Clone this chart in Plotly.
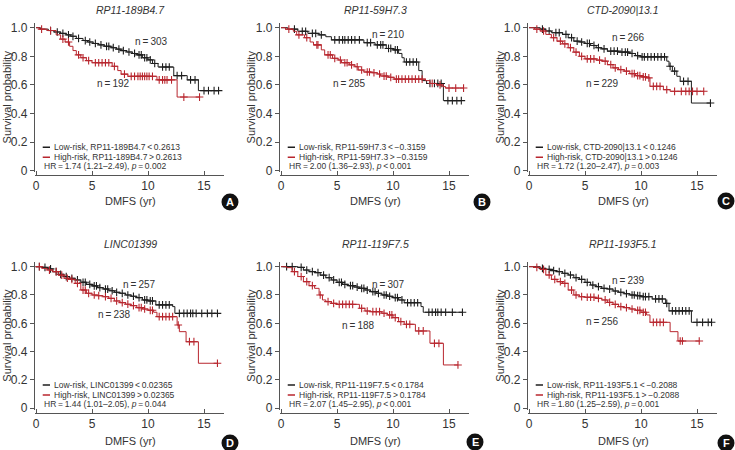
import numpy as np
import plotly.graph_objects as go

W, H = 735, 450

# ---------------- data ----------------
titles = ["RP11-189B4.7", "RP11-59H7.3", "CTD-2090|13.1", "LINC01399", "RP11-119F7.5", "RP11-193F5.1"]
letters = ["A", "B", "C", "D", "E", "F"]
low_labels = ["Low-risk, RP11-189B4.7\u2009<\u20090.2613", "Low-risk, RP11-59H7.3\u2009<\u2009\u22120.3159",
              "Low-risk, CTD-2090|13.1\u2009<\u20090.1246", "Low-risk, LINC01399\u2009<\u20090.02365",
              "Low-risk, RP11-119F7.5\u2009<\u20090.1784", "Low-risk, RP11-193F5.1\u2009<\u2009\u22120.2088"]
high_labels = ["High-risk, RP11-189B4.7\u2009>\u20090.2613", "High-risk, RP11-59H7.3\u2009>\u2009\u22120.3159",
               "High-risk, CTD-2090|13.1\u2009>\u20090.1246", "High-risk, LINC01399\u2009>\u20090.02365",
               "High-risk, RP11-119F7.5\u2009>\u20090.1784", "High-risk, RP11-193F5.1\u2009>\u2009\u22120.2088"]
hr_values = ["1.74 (1.21\u20132.49)", "2.00 (1.36\u20132.93)", "1.72 (1.20\u20132.47)",
             "1.44 (1.01\u20132.05)", "2.07 (1.45\u20132.95)", "1.80 (1.25\u20132.59)"]
p_values = ["\u2009=\u20090.002", "\u2009<\u20090.001", "\u2009=\u20090.003",
            "\u2009=\u20090.044", "\u2009<\u20090.001", "\u2009=\u20090.001"]
n_low = [303, 210, 266, 257, 307, 239]
n_high = [192, 285, 229, 238, 188, 256]
x_ticks = [0, 5, 10, 15]
y_ticks = [0, 0.2, 0.4, 0.6, 0.8, 1.0]
y_ticktext = ["0", "0.2", "0.4", "0.6", "0.8", "1.0"]

# Panel A
A_low_t = [0, 0.4, 1.1, 1.6, 2.2, 2.7, 3.1, 3.6, 4.2, 4.6, 5.1, 5.6, 6.1, 6.7, 7.2, 7.6, 8.1, 8.6, 9.0, 9.5, 10.0, 10.4, 10.9, 12.3, 13.5, 14.5]
A_low_s = [1.0, 0.99, 0.98, 0.97, 0.96, 0.95, 0.94, 0.925, 0.91, 0.90, 0.89, 0.88, 0.87, 0.86, 0.85, 0.84, 0.83, 0.82, 0.81, 0.79, 0.775, 0.75, 0.725, 0.665, 0.635, 0.56]
A_low_c = [1.3, 1.9, 2.4, 2.9, 3.3, 3.8, 4.4, 4.8, 5.3, 5.8, 6.3, 6.5, 6.9, 7.4, 7.8, 8.3, 8.8, 9.2, 9.4, 9.7, 9.9, 10.2, 10.6, 11.3, 11.6, 11.9, 12.6, 13.0, 13.8, 14.2, 15.0, 15.4, 15.9, 16.3]
A_high_t = [0, 0.3, 1.0, 1.8, 2.2, 2.6, 3.0, 3.3, 3.6, 4.0, 4.5, 5.0, 6.8, 7.3, 7.6, 8.2, 10.8, 12.6]
A_high_s = [1.0, 0.99, 0.98, 0.95, 0.92, 0.90, 0.87, 0.84, 0.81, 0.79, 0.77, 0.755, 0.73, 0.70, 0.675, 0.66, 0.635, 0.515]
A_high_c = [0.5, 1.3, 2.4, 2.9, 3.8, 4.2, 4.7, 5.3, 5.6, 5.9, 6.2, 6.5, 7.0, 7.9, 8.5, 8.8, 9.1, 9.3, 9.5, 9.7, 9.9, 10.1, 10.4, 11.0, 11.3, 11.5, 11.7, 12.1, 13.2, 14.6]

# Panel B
B_low_t = [0, 0.6, 1.5, 2.4, 3.4, 4.0, 4.5, 7.4, 8.4, 9.4, 10.0, 10.5, 10.8, 11.0, 12.3, 12.6, 13.0, 14.5]
B_low_s = [1.0, 0.99, 0.975, 0.96, 0.95, 0.937, 0.915, 0.895, 0.88, 0.855, 0.845, 0.82, 0.79, 0.76, 0.70, 0.63, 0.61, 0.49]
B_low_c = [1.2, 1.9, 2.2, 2.8, 3.1, 3.6, 4.8, 5.2, 5.5, 5.7, 6.0, 6.3, 6.6, 7.0, 7.7, 8.0, 8.6, 8.9, 9.1, 9.6, 9.8, 10.2, 10.4, 11.2, 11.5, 11.8, 12.1, 13.3, 13.7, 14.0, 14.3, 14.9, 15.3, 15.7, 16.1]
B_high_t = [0, 0.4, 1.1, 1.4, 2.1, 2.6, 2.9, 3.6, 3.9, 4.6, 5.1, 5.4, 6.1, 6.6, 6.9, 7.4, 8.1, 8.6, 8.9, 9.6, 10.1, 12.9, 13.3, 13.9, 14.4, 14.7]
B_high_s = [1.0, 0.99, 0.975, 0.95, 0.93, 0.90, 0.88, 0.845, 0.81, 0.786, 0.774, 0.755, 0.74, 0.727, 0.704, 0.69, 0.685, 0.676, 0.662, 0.653, 0.64, 0.63, 0.61, 0.60, 0.588, 0.578]
B_high_c = [0.7, 1.6, 2.3, 3.2, 3.3, 4.2, 4.4, 4.8, 5.3, 5.7, 5.9, 6.3, 6.8, 7.2, 7.7, 7.9, 8.3, 8.8, 9.2, 9.4, 9.8, 10.3, 10.5, 10.8, 11.1, 11.4, 11.7, 12.0, 12.3, 12.6, 13.5, 14.2, 15.0, 15.6, 16.3]

# Panel C
C_low_t = [0, 1.0, 1.5, 2.0, 3.0, 3.5, 4.0, 4.5, 5.0, 5.5, 6.0, 6.5, 7.0, 8.0, 9.0, 9.5, 10.0, 12.3, 12.5, 12.8, 13.2, 13.5, 14.5]
C_low_s = [1.0, 0.99, 0.977, 0.965, 0.953, 0.93, 0.906, 0.90, 0.89, 0.876, 0.86, 0.852, 0.836, 0.829, 0.82, 0.805, 0.796, 0.766, 0.73, 0.696, 0.66, 0.625, 0.473]
C_low_c = [1.2, 1.8, 2.4, 2.7, 3.3, 3.8, 4.3, 4.7, 5.2, 5.4, 5.8, 6.2, 6.7, 7.3, 7.6, 7.9, 8.3, 8.6, 8.8, 9.2, 9.7, 10.1, 10.3, 10.6, 10.9, 11.2, 11.5, 11.8, 12.1, 12.6, 13.0, 13.8, 14.2, 16.2]
C_high_t = [0, 0.5, 1.0, 1.5, 2.0, 2.5, 3.0, 3.5, 4.0, 4.5, 5.0, 6.0, 6.5, 7.0, 7.5, 8.0, 8.5, 9.0, 9.5, 10.0, 10.5, 10.8, 12.0, 12.6]
C_high_s = [1.0, 0.99, 0.977, 0.953, 0.93, 0.906, 0.887, 0.86, 0.829, 0.80, 0.782, 0.773, 0.766, 0.742, 0.719, 0.707, 0.696, 0.679, 0.665, 0.656, 0.649, 0.59, 0.567, 0.555]
C_high_c = [0.7, 1.3, 2.2, 2.8, 3.2, 3.7, 4.2, 4.7, 5.2, 5.5, 5.8, 6.3, 6.8, 7.3, 7.7, 8.2, 8.7, 9.2, 9.4, 9.7, 9.9, 10.2, 10.4, 10.7, 11.1, 11.4, 11.7, 12.3, 13.0, 13.6, 14.0, 14.3, 14.6, 15.0, 15.6]

# Panel D
D_low_t = [0, 0.5, 1.0, 1.5, 2.0, 2.5, 3.0, 3.5, 4.0, 4.5, 5.0, 5.5, 6.0, 6.5, 7.0, 7.5, 8.0, 8.5, 9.0, 9.5, 10.0, 10.7, 12.2, 12.4]
D_low_s = [1.0, 0.995, 0.984, 0.965, 0.946, 0.93, 0.918, 0.906, 0.89, 0.875, 0.864, 0.852, 0.842, 0.83, 0.819, 0.812, 0.80, 0.791, 0.781, 0.765, 0.758, 0.73, 0.718, 0.67]
D_low_c = [0.3, 0.8, 1.3, 1.8, 2.2, 2.7, 3.2, 3.7, 4.2, 4.4, 4.8, 5.2, 5.4, 5.7, 6.2, 6.4, 6.8, 7.2, 7.7, 8.2, 8.7, 9.2, 9.7, 9.9, 10.2, 10.4, 11.0, 11.3, 11.6, 11.9, 12.8, 13.2, 13.5, 13.8, 14.0, 14.3, 14.8, 15.3, 15.7, 16.2]
D_high_t = [0, 0.5, 1.0, 1.5, 2.0, 2.5, 3.0, 3.5, 4.0, 4.5, 5.0, 5.5, 6.0, 6.5, 7.0, 7.5, 8.0, 8.5, 9.0, 9.5, 10.0, 10.5, 10.8, 12.6, 12.8, 13.4, 14.5]
D_high_s = [1.0, 0.988, 0.976, 0.965, 0.94, 0.918, 0.91, 0.882, 0.835, 0.812, 0.80, 0.795, 0.788, 0.776, 0.758, 0.746, 0.735, 0.725, 0.711, 0.701, 0.692, 0.678, 0.647, 0.588, 0.541, 0.47, 0.318]
D_high_c = [0.3, 1.2, 1.8, 2.3, 2.8, 3.2, 3.7, 4.2, 4.4, 4.7, 5.2, 5.6, 6.2, 6.7, 7.2, 7.7, 8.2, 8.7, 9.2, 9.4, 9.7, 10.2, 10.4, 11.0, 11.3, 11.6, 11.9, 12.2, 12.7, 13.7, 14.1, 16.2]

# Panel E
E_low_t = [0, 1.5, 2.0, 2.5, 3.0, 3.5, 4.0, 4.5, 5.0, 5.5, 6.0, 6.5, 7.0, 7.5, 8.0, 8.5, 9.0, 9.5, 10.0, 10.5, 11.0, 12.5, 12.7]
E_low_s = [1.0, 0.995, 0.976, 0.965, 0.958, 0.94, 0.922, 0.906, 0.889, 0.875, 0.866, 0.856, 0.847, 0.835, 0.824, 0.812, 0.80, 0.791, 0.781, 0.765, 0.745, 0.718, 0.678]
E_low_c = [0.5, 1.0, 1.8, 2.3, 2.8, 3.3, 3.8, 4.3, 4.7, 5.2, 5.4, 5.7, 6.2, 6.4, 6.8, 7.2, 7.4, 7.7, 8.2, 8.4, 8.7, 9.2, 9.4, 9.7, 10.2, 10.4, 10.8, 11.3, 11.6, 11.9, 12.2, 13.2, 13.5, 13.8, 14.0, 14.3, 14.7, 15.3, 16.2]
E_high_t = [0, 0.5, 1.0, 1.5, 2.0, 2.5, 3.0, 3.4, 3.7, 4.0, 4.5, 5.0, 7.0, 7.5, 8.0, 9.0, 9.5, 10.0, 10.5, 11.0, 12.0, 13.3, 14.5]
E_high_s = [1.0, 0.993, 0.965, 0.93, 0.894, 0.866, 0.847, 0.80, 0.765, 0.753, 0.741, 0.734, 0.706, 0.687, 0.682, 0.671, 0.659, 0.64, 0.612, 0.593, 0.546, 0.459, 0.306]
E_high_c = [1.2, 1.8, 2.3, 2.8, 3.5, 4.2, 4.7, 5.2, 5.5, 5.8, 6.1, 6.4, 7.2, 7.7, 8.2, 8.5, 8.8, 9.2, 9.7, 9.9, 10.2, 10.7, 11.2, 11.5, 12.3, 12.7, 13.7, 14.1, 15.8]

# Panel F
F_low_t = [0, 1.0, 1.5, 2.0, 2.5, 3.0, 3.5, 4.0, 4.5, 5.0, 5.5, 6.0, 6.5, 7.0, 7.5, 8.0, 8.5, 9.0, 9.5, 10.0, 11.0, 12.2, 12.5, 14.5]
F_low_s = [1.0, 0.988, 0.981, 0.972, 0.965, 0.953, 0.941, 0.922, 0.91, 0.889, 0.87, 0.859, 0.847, 0.842, 0.828, 0.819, 0.809, 0.80, 0.795, 0.788, 0.772, 0.741, 0.688, 0.607]
F_low_c = [1.2, 1.8, 2.2, 2.7, 3.2, 3.7, 4.2, 4.7, 5.2, 5.7, 6.2, 6.7, 7.2, 7.7, 8.2, 8.7, 9.2, 9.4, 9.7, 9.9, 10.2, 10.4, 10.7, 11.3, 11.6, 11.9, 12.3, 12.8, 13.1, 13.4, 13.7, 14.0, 14.3, 15.0, 15.5, 16.0, 16.3]
F_high_t = [0, 0.5, 1.0, 1.5, 2.0, 2.5, 3.0, 3.5, 4.0, 4.5, 5.0, 6.0, 6.5, 7.0, 7.5, 8.0, 8.5, 9.0, 9.5, 10.0, 10.5, 10.8, 12.6, 13.3]
F_high_s = [1.0, 0.995, 0.981, 0.941, 0.91, 0.894, 0.882, 0.835, 0.80, 0.788, 0.784, 0.776, 0.765, 0.748, 0.734, 0.718, 0.711, 0.701, 0.692, 0.678, 0.659, 0.607, 0.541, 0.475]
F_high_c = [0.7, 1.3, 1.8, 2.3, 2.8, 3.2, 3.8, 4.2, 4.7, 5.2, 5.5, 5.8, 6.2, 6.8, 7.2, 7.7, 8.2, 8.7, 9.2, 9.7, 9.9, 10.2, 10.4, 11.1, 11.4, 11.7, 12.0, 13.5, 13.7, 15.2]

low_curves = [(A_low_t, A_low_s, A_low_c), (B_low_t, B_low_s, B_low_c), (C_low_t, C_low_s, C_low_c),
              (D_low_t, D_low_s, D_low_c), (E_low_t, E_low_s, E_low_c), (F_low_t, F_low_s, F_low_c)]
high_curves = [(A_high_t, A_high_s, A_high_c), (B_high_t, B_high_s, B_high_c), (C_high_t, C_high_s, C_high_c),
               (D_high_t, D_high_s, D_high_c), (E_high_t, E_high_s, E_high_c), (F_high_t, F_high_s, F_high_c)]

# ---------------- layout / style ----------------
FONT = "Liberation Sans, Arial, sans-serif"
BLACK = "#1e1e1e"
RED = "#b8262e"
AXIS = "#555555"
TEXT = "#333333"

XMAX = 16.8
XMIN = -0.1
PX_PER_YR = 11.2
col_x0 = [36, 281, 529]          # pixel of x=0 per column
row_y = [(22.7, 172.1, 175), (261.7, 409.7, 413)]  # top px, bottom px, x-axis line px
title_y = [10, 244]
xtitle_y = [201, 441]
ytitle_x = [7, 251, 500]
circle_pos = [(230, 202), (482, 202), (726, 201), (230, 443), (475, 442), (726, 443)]
n_low_pos = [(10.3, 0.90), (9.6, 0.954), (8.85, 0.933), (9.2, 0.873), (9.6, 0.873), (8.85, 0.90)]
n_high_pos = [(6.9, 0.61), (6.1, 0.61), (6.6, 0.61), (7.0, 0.662), (6.95, 0.587), (6.6, 0.61)]


def px2x(px):
    return px / W


def px2y(py):
    return 1 - py / H


def step_at(t, s, c):
    t = np.asarray(t)
    s = np.asarray(s)
    idx = np.searchsorted(t, np.asarray(c), side="right") - 1
    return s[idx]


fig = go.Figure()
annotations = []
shapes = []

for i in range(6):
    r, cidx = divmod(i, 3)
    ax = "" if i == 0 else str(i + 1)
    xref, yref = "x" + ax, "y" + ax
    x0 = col_x0[cidx]
    top, bot, xline = row_y[r]
    left_px = x0 + XMIN * PX_PER_YR
    right_px = x0 + XMAX * PX_PER_YR

    for (t, s, cens), color in ((low_curves[i], BLACK), (high_curves[i], RED)):
        end = max(max(cens), t[-1])
        xs = list(t) + [end]
        ys = list(s) + [s[-1]]
        fig.add_trace(go.Scatter(x=xs, y=ys, mode="lines", line=dict(color=color, width=1, shape="hv"),
                                 xaxis=xref, yaxis=yref, showlegend=False, hoverinfo="skip"))
        fig.add_trace(go.Scatter(x=cens, y=step_at(t, s, cens), mode="markers",
                                 marker=dict(symbol="cross-thin", size=5.5, line=dict(width=1.1, color=color),
                                             color=color),
                                 xaxis=xref, yaxis=yref, showlegend=False, hoverinfo="skip"))

    fig.update_layout(**{
        "xaxis" + ax: dict(domain=[px2x(left_px), px2x(right_px)], range=[XMIN, XMAX], anchor="free",
                           position=px2y(xline), tickvals=x_ticks, ticks="inside", ticklen=4, tickcolor=AXIS,
                           showline=True, linecolor=AXIS, linewidth=1, showgrid=False, zeroline=False,
                           automargin=False, tickfont=dict(family=FONT, size=12, color=TEXT)),
        "yaxis" + ax: dict(domain=[px2y(bot), px2y(top)], range=[-0.01, 1.035], anchor=xref,
                           tickvals=y_ticks, ticktext=y_ticktext, ticks="outside", ticklen=4, tickcolor=AXIS,
                           showline=True, linecolor=AXIS, linewidth=1, showgrid=False, zeroline=False,
                           automargin=False, tickfont=dict(family=FONT, size=12, color=TEXT)),
    })

    mid_x = (x0 + right_px) / 2
    # panel title
    annotations.append(dict(text="<i>" + titles[i] + "</i>", x=px2x(mid_x), y=px2y(title_y[r]), xref="paper",
                            yref="paper", showarrow=False, font=dict(family=FONT, size=10.5, color=TEXT),
                            xanchor="center", yanchor="middle"))
    # axis titles
    annotations.append(dict(text="DMFS (yr)", x=px2x(mid_x), y=px2y(xtitle_y[r]), xref="paper", yref="paper",
                            showarrow=False, font=dict(family=FONT, size=11, color=TEXT),
                            xanchor="center", yanchor="middle"))
    annotations.append(dict(text="Survival probability", x=px2x(ytitle_x[cidx]), y=px2y((top + bot) / 2),
                            xref="paper", yref="paper", showarrow=False, textangle=-90,
                            font=dict(family=FONT, size=11, color=TEXT), xanchor="center", yanchor="middle"))
    # n labels
    annotations.append(dict(text="n\u2009=\u2009%d" % n_low[i], x=n_low_pos[i][0], y=n_low_pos[i][1], xref=xref,
                            yref=yref, showarrow=False, font=dict(family=FONT, size=10, color=TEXT)))
    annotations.append(dict(text="n\u2009=\u2009%d" % n_high[i], x=n_high_pos[i][0], y=n_high_pos[i][1],
                            xref=xref, yref=yref, showarrow=False, font=dict(family=FONT, size=10, color=TEXT)))
    # legend
    for txt, yy, color in ((low_labels[i], 0.164, BLACK), (high_labels[i], 0.094, RED)):
        shapes.append(dict(type="line", x0=0.6, x1=1.25, y0=yy, y1=yy, xref=xref, yref=yref,
                           line=dict(color=color, width=1.5)))
        annotations.append(dict(text=txt, x=1.4, y=yy, xref=xref, yref=yref, showarrow=False, xanchor="left",
                                yanchor="middle", font=dict(family=FONT, size=8.5, color=TEXT)))
    annotations.append(dict(text="HR\u2009=\u2009" + hr_values[i] + ", <i>p</i>" + p_values[i], x=0.5, y=0.03,
                            xref=xref, yref=yref, showarrow=False, xanchor="left", yanchor="middle",
                            font=dict(family=FONT, size=8.5, color=TEXT)))
    # panel letter
    cx, cy = circle_pos[i]
    rad = 8.5
    shapes.append(dict(type="circle", xref="paper", yref="paper", x0=px2x(cx - rad), x1=px2x(cx + rad),
                       y0=px2y(cy + rad), y1=px2y(cy - rad), fillcolor="#111111", line=dict(width=0)))
    annotations.append(dict(text="<b>" + letters[i] + "</b>", x=px2x(cx), y=px2y(cy), xref="paper", yref="paper",
                            showarrow=False, font=dict(family=FONT, size=11, color="white"),
                            xanchor="center", yanchor="middle"))

fig.update_layout(width=W, height=H, margin=dict(l=0, r=0, t=0, b=0, autoexpand=False), paper_bgcolor="white",
                  plot_bgcolor="white", annotations=annotations, shapes=shapes, showlegend=False)

# the page's default body margin would push the figure out of the window
fig.write_html("out.html", config={"displayModeBar": False},
               post_script="document.body.style.margin='0';document.body.style.overflow='hidden';")
